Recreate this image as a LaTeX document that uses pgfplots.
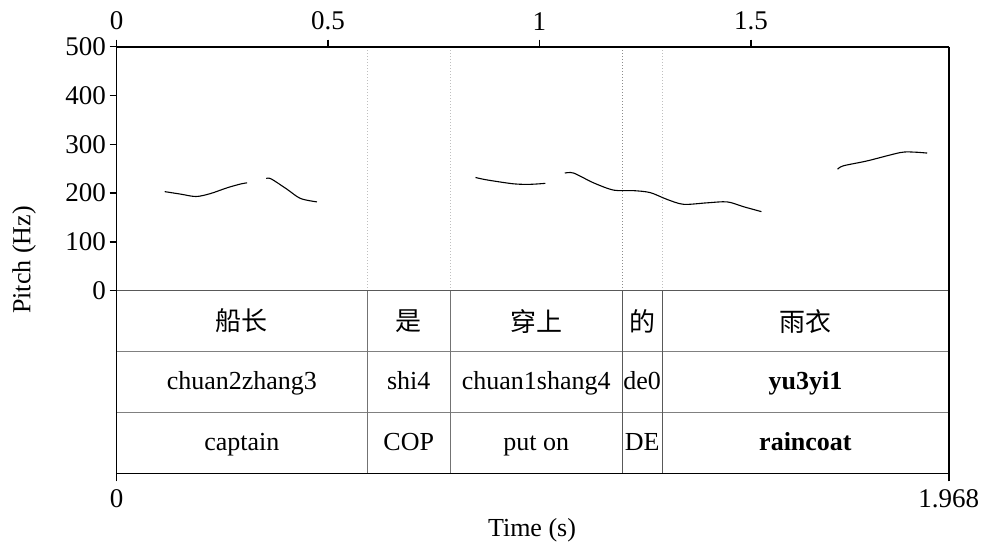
\documentclass[border=0pt]{standalone}
\usepackage{pgfplots}
\pgfplotsset{compat=1.18}
\usepackage{fontspec}
\setmainfont{Liberation Serif}
\newfontfamily\cjk{Noto Sans CJK SC}
\newcommand{\fs}{\fontsize{26}{31}\selectfont}
\newcommand{\ft}{\fontsize{27}{32}\selectfont}
\begin{document}
\begin{tikzpicture}[x=1pt,y=1pt]
\begin{axis}[name=A,
  at={(116.5pt,-46.7pt)}, anchor=north west,
  scale only axis, width=832.3pt, height=244pt,
  xmin=0, xmax=1.968, ymin=0, ymax=500,
  axis line style={draw=none},
  xtick={0,0.5,1,1.5}, xtick pos=upper, xticklabel pos=upper,
  ytick={0,100,200,300,400,500}, ytick pos=left,
  tick align=outside, major tick length=7pt,
  every tick/.style={black, line width=1.5pt},
  tick label style={font=\ft},
  xticklabel style={yshift=6pt},
  /pgf/number format/assume math mode=true,
  clip=false]
  % boundaries (dotted)
  \addplot[gray!50, dotted, line width=1pt] coordinates {(0.593,0) (0.593,500)};
  \addplot[gray!50, dotted, line width=1pt] coordinates {(0.789,0) (0.789,500)};
  \addplot[gray!90, dotted, line width=1pt] coordinates {(1.196,0) (1.196,500)};
  \addplot[gray!50, dotted, line width=1pt] coordinates {(1.290,0) (1.290,500)};
  % pitch contours
  \addplot[black, line width=1.1pt, smooth] coordinates {
    (0.114,203) (0.151,198) (0.188,193) (0.222,199) (0.262,211) (0.295,219) (0.309,221)};
  \addplot[black, line width=1.1pt, smooth] coordinates {
    (0.354,230) (0.366,229) (0.403,208) (0.435,189) (0.474,182)};
  \addplot[black, line width=1.1pt, smooth] coordinates {
    (0.849,232) (0.876,227) (0.939,219) (0.979,218) (1.014,220)};
  \addplot[black, line width=1.1pt, smooth] coordinates {
    (1.060,241) (1.081,241) (1.128,221) (1.176,206) (1.223,205) (1.262,201)
    (1.302,187) (1.341,177) (1.396,180) (1.444,182) (1.483,172) (1.525,162)};
  \addplot[black, line width=1.1pt, smooth] coordinates {
    (1.705,249) (1.719,256) (1.775,266) (1.853,283) (1.885,284) (1.917,282)};
\end{axis}
\begin{axis}[name=B,
  at={(116.5pt,-290.7pt)}, anchor=north west,
  scale only axis, width=832.3pt, height=182.6pt,
  xmin=0, xmax=1.968, ymin=0, ymax=3,
  axis line style={draw=none},
  xtick={0,1.968}, xticklabels={0,1.968}, xtick pos=lower,
  ytick=\empty,
  tick align=outside, major tick length=8pt,
  every tick/.style={black, line width=1.5pt},
  tick label style={font=\ft},
  xticklabel style={yshift=-5pt},
  /pgf/number format/assume math mode=true,
  clip=false]
  \addplot[black!65, line width=1.1pt] coordinates {(0,3) (1.968,3)};
  \addplot[black!50, line width=1pt] coordinates {(0,2) (1.968,2)};
  \addplot[black!50, line width=1pt] coordinates {(0,1) (1.968,1)};
  \addplot[black!55, line width=1pt] coordinates {(0.593,0) (0.593,3)};
  \addplot[black!55, line width=1pt] coordinates {(0.789,0) (0.789,3)};
  \addplot[black!65, line width=1pt] coordinates {(1.196,0) (1.196,3)};
  \addplot[black!65, line width=1pt] coordinates {(1.290,0) (1.290,3)};
  % row 1
  \node[font=\fs\cjk] at (axis cs:0.2965,2.5) {船长};
  \node[font=\fs\cjk] at (axis cs:0.691,2.5) {是};
  \node[font=\fs\cjk] at (axis cs:0.9925,2.5) {穿上};
  \node[font=\fs\cjk] at (axis cs:1.243,2.5) {的};
  \node[font=\fs\cjk] at (axis cs:1.629,2.5) {雨衣};
  % row 2
  \node[font=\fs, anchor=base] at (axis cs:0.2965,1.37) {chuan2zhang3};
  \node[font=\fs, anchor=base] at (axis cs:0.691,1.37) {shi4};
  \node[font=\fs, anchor=base] at (axis cs:0.9925,1.37) {chuan1shang4};
  \node[font=\fs, anchor=base, inner sep=0pt] at (axis cs:1.243,1.37) {de0};
  \node[font=\fs\bfseries, anchor=base] at (axis cs:1.629,1.37) {yu3yi1};
  % row 3
  \node[font=\fs, anchor=base] at (axis cs:0.2965,0.38) {captain};
  \node[font=\fs, anchor=base] at (axis cs:0.691,0.38) {COP};
  \node[font=\fs, anchor=base] at (axis cs:0.9925,0.38) {put on};
  \node[font=\fs, anchor=base, inner sep=0pt] at (axis cs:1.243,0.38) {DE};
  \node[font=\fs\bfseries, anchor=base] at (axis cs:1.629,0.38) {raincoat};
\end{axis}
% outer frame
\draw[black, line width=1.6pt] (116.5pt,-46.7pt) -- (948.8pt,-46.7pt);
\draw[black, line width=1.6pt] (116.5pt,-46.7pt) -- (116.5pt,-473.3pt);
\draw[black, line width=1.6pt] (948.8pt,-46.7pt) -- (948.8pt,-473.3pt);
\draw[black, line width=1.6pt] (116.5pt,-473.3pt) -- (948.8pt,-473.3pt);
% labels
\node[font=\fs, rotate=90] at (24pt,-260pt) {Pitch (Hz)};
\node[font=\fs] at (532pt,-530pt) {Time (s)};
\pgfresetboundingbox
\path[use as bounding box] (0,0) rectangle (983pt,-546pt);
\end{tikzpicture}
\end{document}
